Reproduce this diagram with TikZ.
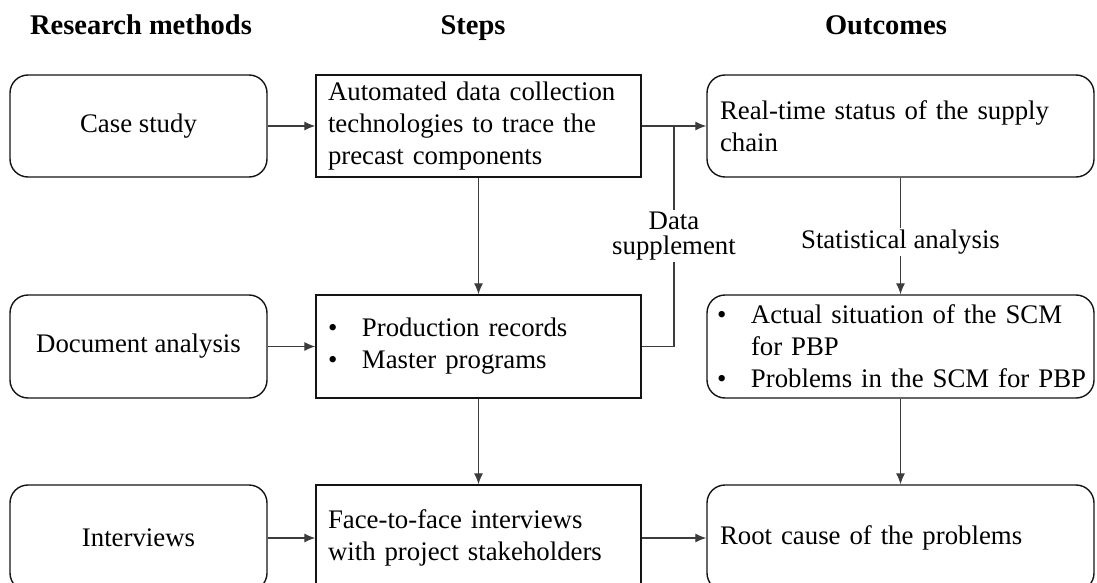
\documentclass[tikz,border=0pt]{standalone}
\usepackage{fontspec}
\setmainfont{Liberation Serif}
\usepackage{tikz}
\usetikzlibrary{arrows.meta,positioning,calc}
\definecolor{boxBlack}{RGB}{20,20,20}
\definecolor{linkGray}{RGB}{60,60,60}
\newcommand{\bpoint}[1][34pt]{\makebox[#1][l]{\textbullet}}

\begin{document}
\begin{tikzpicture}[x=1pt, y=-1pt,
    txt/.style={font=\rmfamily\fontsize{26.8}{32}\selectfont},
    head/.style={font=\bfseries\fontsize{28.5}{34}\selectfont, anchor=base},
    method/.style={txt, draw=boxBlack, line width=1.4pt, rounded corners=18pt,
      minimum width=257pt, minimum height=102pt, align=center},
    stepbox/.style={txt, draw=boxBlack, line width=1.4pt, minimum width=325pt,
      text width=301pt, inner xsep=12pt, minimum height=102pt, align=left},
    outcome/.style={stepbox, rounded corners=18pt, minimum width=387pt,
      text width=367pt, inner xsep=10pt},
    link/.style={draw=linkGray, line width=1.1pt, -{Latex[length=11pt,width=9pt]}},
    tag/.style={txt, fill=white, inner sep=2pt, align=center}]
  \useasboundingbox (0,0) rectangle (1097,583);

  % Column headers
  \node[head] (hMethods) at (141,35) {Research methods};
  \node[head] (hSteps) at (473,35) {Steps};
  \node[head] (hOutcomes) at (886,35) {Outcomes};

  % Research methods
  \node[method] (caseStudy) at (138.5,126) {Case study};
  \node[method, minimum height=103pt] (docAnalysis) at (138.5,346.5) {Document analysis};
  \node[method, minimum height=106pt] (interviews) at (138.5,538) {Interviews};

  % Steps
  \node[stepbox] (stepTrace) at (478.5,126)
    {Automated data collection\\technologies to trace the\\precast components};
  \node[stepbox, minimum height=103pt] (stepRecords) at (478.5,346.5)
    {\bpoint Production records\\\bpoint Master programs};
  \node[stepbox, minimum height=106pt] (stepInterview) at (478.5,538)
    {Face-to-face interviews\\with project stakeholders};

  % Outcomes
  \node[outcome] (outStatus) at (900.5,126)
    {\hspace*{3pt}Real-time status of the supply\\\hspace*{3pt}chain};
  \node[outcome, minimum height=103pt] (outSituation) at (900.5,346.5)
    {\bpoint Actual situation of the SCM\\\hspace*{34pt}for PBP\\\mbox{\bpoint Problems in the SCM for PBP}};
  \node[outcome, minimum height=106pt] (outCause) at (900.5,538)
    {\hspace*{3pt}Root cause of the problems};

  % Connectors
  \draw[link] (caseStudy) -- (stepTrace);
  \draw[link] (docAnalysis) -- (stepRecords);
  \draw[link] (interviews) -- (stepInterview);
  \draw[link] (stepTrace) -- (outStatus);
  \draw[link] (stepInterview) -- (outCause);
  \draw[link] (stepTrace) -- (stepRecords);
  \draw[link] (stepRecords) -- (stepInterview);
  \draw[link] (outStatus) -- node[tag, pos=0.55] (statLabel) {Statistical analysis} (outSituation);
  \draw[link] (outSituation) -- (outCause);

  % Data supplement joins the upper link
  \coordinate (joinPt) at ($(stepTrace.east)!0.5!(outStatus.west)$);
  \draw[draw=linkGray, line width=1.1pt] (stepRecords.east) -| node[tag, pos=0.75,
    font=\rmfamily\fontsize{26.8}{25}\selectfont] (dataLabel) {Data\\supplement} (joinPt);
\end{tikzpicture}
\end{document}
